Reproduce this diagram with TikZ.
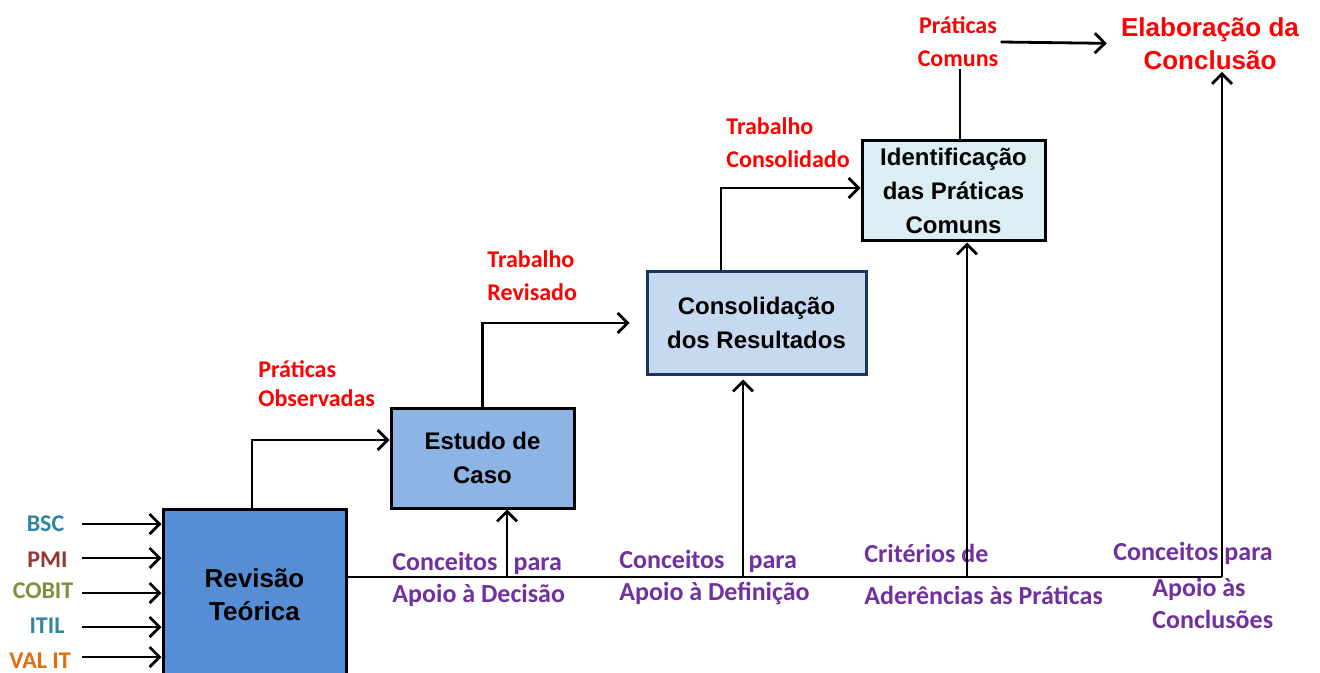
\documentclass[tikz,border=0pt]{standalone}
\usepackage{fontspec}
\setmainfont{Carlito}
\newfontfamily\arialfont{Liberation Sans}
\usetikzlibrary{arrows.meta,positioning}
\definecolor{revfill}{HTML}{558ED5}
\definecolor{estfill}{HTML}{8EB4E3}
\definecolor{consfill}{HTML}{C6D9F1}
\definecolor{consline}{HTML}{17375E}
\definecolor{identfill}{HTML}{DBEEF4}
\definecolor{lblpurple}{HTML}{7030A0}
\definecolor{bsccol}{HTML}{31859C}
\definecolor{pmicol}{HTML}{953735}
\definecolor{cobitcol}{HTML}{77933C}
\definecolor{valcol}{HTML}{E46C0A}
\tikzset{
    %Define standard arrow tip
    >={Straight Barb[length=5pt,width=10pt]},
    %Define style for boxes
    caixa/.style={
           rectangle,
           draw=black, line width=1.5pt,
           inner sep=1pt,
           align=center,
           font=\arialfont\bfseries\fontsize{12}{17}\selectfont},
    % red title and labels
    titulo/.style={
           text=red,
           inner sep=1pt,
           align=center,
           font=\arialfont\bfseries\fontsize{13}{16.5}\selectfont},
    rotulo/.style={
           text=red,
           anchor=west,
           inner sep=1pt,
           align=left,
           font=\bfseries\fontsize{12}{16.5}\selectfont},
    conceito/.style={
           text=lblpurple,
           anchor=west,
           inner sep=1pt,
           align=left,
           font=\bfseries\fontsize{13}{16}\selectfont},
    entrada/.style={
           inner sep=1pt,
           font=\bfseries\fontsize{12}{14}\selectfont},
    % Define arrow style
    fluxo/.style={
           ->,
           line width=1.4pt},
    linha/.style={
           line width=1.4pt}
}

\begin{document}
\begin{tikzpicture}[x=0.5pt, y=-0.5pt]
		\useasboundingbox (0,0) rectangle (1320,673);
		\clip (0,0) rectangle (1320,673);
		% boxes
		\node[caixa, fill=revfill, minimum width=91.5pt, minimum height=86pt, font=\arialfont\bfseries\fontsize{13}{16.5}\selectfont] (revisao) at (254.5,595) {Revisão\\Teórica};
		\node[caixa, fill=estfill, minimum width=91.5pt, minimum height=50pt] (estudo) at (482.5,458) {Estudo de\\Caso};
		\node[caixa, fill=consfill, draw=consline, minimum width=109.5pt, minimum height=51pt] (consol) at (756.5,323) {Consolidação\\ dos Resultados};
		\node[caixa, fill=identfill, minimum width=91.5pt, minimum height=50pt] (ident) at (953.5,191) {Identificação\\das Práticas\\Comuns};
		\node[titulo] (elab) at (1210,43.5) {Elaboração da\\Conclusão};
		% outputs
		\node[rotulo] (pobs) at (256,383.5) {Práticas\\[-2pt]Observadas};
		\node[rotulo] (trev) at (485,276) {Trabalho\\Revisado};
		\node[rotulo] (tcons) at (724,142.5) {Trabalho\\Consolidado};
		\node[rotulo, anchor=center, align=center] (pcom) at (958,42) {Práticas\\Comuns};
		% inputs
		\node[entrada, text=bsccol] (bsc) at (45.5,524) {BSC};
		\node[entrada, text=pmicol] (pmi) at (47.5,560) {PMI};
		\node[entrada, text=cobitcol] (cobit) at (43,591) {COBIT};
		\node[entrada, text=bsccol] (itil) at (47,626) {ITIL};
		\node[entrada, text=valcol] (valit) at (40,661) {VAL IT};
		\coordinate (ebsc) at (82,524);
		\coordinate (epmi) at (82,558);
		\coordinate (ecobit) at (82,593);
		\coordinate (eitil) at (82,627);
		\coordinate (evalit) at (82,657);
		\draw[fluxo] (ebsc) -- (ebsc -| revisao.west);
		\draw[fluxo] (epmi) -- (epmi -| revisao.west);
		\draw[fluxo] (ecobit) -- (ecobit -| revisao.west);
		\draw[fluxo] (eitil) -- (eitil -| revisao.west);
		\draw[fluxo] (evalit) -- (evalit -| revisao.west);
		% concepts along the bar
		\node[conceito] (cdec) at (390,579) {Conceitos\hspace{8pt}para\\Apoio à Decisão};
		\node[conceito] (cdef) at (617,578) {Conceitos\hspace{12pt}para\\Apoio à Definição};
		\node[conceito] (crit) at (862,574) {Critérios de\\[5pt]Aderências às Práticas};
		\node[conceito] (cconc) at (1111,553) {Conceitos para};
		\node[conceito] (capoio) at (1150,603.5) {Apoio às\\Conclusões};
		\coordinate (b1) at (507,577);
		\coordinate (b2) at (743,577);
		\coordinate (b3) at (967,577);
		\coordinate (b4) at (1222,577);
		\draw[linha] ([yshift=9pt]revisao.east) -- (b4);
		\draw[fluxo] (b1) -- (b1 |- estudo.south);
		\draw[fluxo, shorten >=2pt] (b2) -- (b2 |- consol.south);
		\draw[fluxo] (b3) -- (b3 |- ident.south);
		\draw[fluxo] (b4) -- (b4 |- elab.south);
		% flow between steps
		\draw[fluxo] ([xshift=-1.25pt]revisao.north) |- ([yshift=9pt]estudo.west);
		\draw[fluxo, shorten >=8pt] (estudo.north) |- (consol.west);
		\draw[fluxo] ([xshift=-17.75pt]consol.north) |- ([yshift=1.5pt]ident.west);
		\draw[linha] ([xshift=3.25pt]ident.north) -- ([xshift=3.25pt]ident.north |- pcom.south);
		\draw[fluxo, shorten >=6pt] (pcom.east) -- (elab.west);
	\end{tikzpicture}
\end{document}
